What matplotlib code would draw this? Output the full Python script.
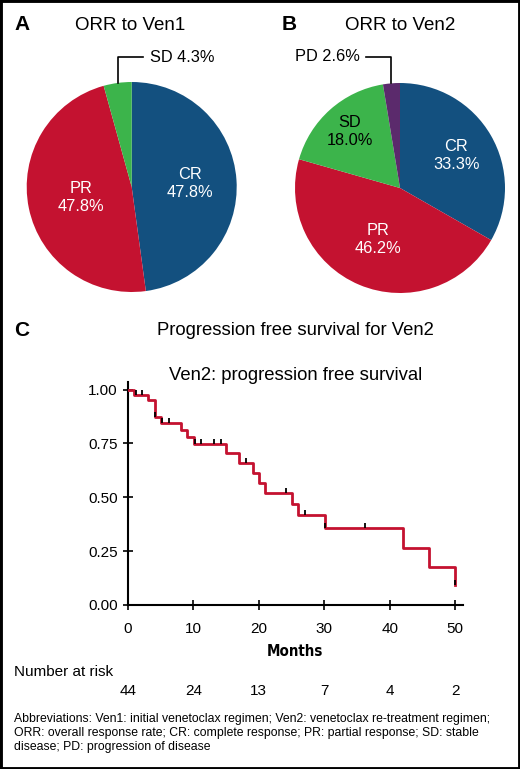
import os
import numpy as np
import matplotlib
matplotlib.use("Agg")
import matplotlib.pyplot as plt
import matplotlib.patches as mpatches
import matplotlib.transforms as mtransforms
from matplotlib import font_manager

plt.rcParams["font.family"] = ["Liberation Sans", "DejaVu Sans"]

# panel A / B: response rates
ven1_labels = ["CR", "PR", "SD"]
ven1_pct = [47.8, 47.8, 4.3]
ven2_labels = ["CR", "PR", "SD", "PD"]
ven2_pct = [33.3, 46.2, 18.0, 2.6]

COLORS = {"CR": "#13507f", "PR": "#c41230", "SD": "#3cb44b", "PD": "#5b2a6c"}

# panel C: Kaplan-Meier steps (time, survival after drop)
km_times = [0, 0.95, 3.1, 4.1, 5.0, 8.05, 9.05, 10.05, 15.0, 17.0, 19.05,
            20.05, 21.0, 25.05, 26.05, 30.05, 42.0, 46.0, 50.05]
km_surv = [1.0, 0.976, 0.950, 0.872, 0.845, 0.812, 0.779, 0.748, 0.705,
           0.660, 0.611, 0.566, 0.519, 0.468, 0.416, 0.356, 0.265, 0.177, 0.092]
censor_times = [1.2, 2.2, 4.2, 5.2, 6.2, 10.2, 11.2, 13.2, 14.2, 18.1,
                24.1, 27.1, 30.1, 36.2, 50.05]

risk_times = [0, 10, 20, 30, 40, 50]
risk_counts = [44, 24, 13, 7, 4, 2]

W, H = 520, 769
fig = plt.figure(figsize=(W / 100, H / 100), dpi=100)


def px(x, y):
    return x / W, 1 - y / H


def draw_pie(ax, labels, pct):
    cols = [COLORS[l] for l in labels]
    wedges, _ = ax.pie(pct, colors=cols, startangle=90, counterclock=False,
                       radius=1, wedgeprops=dict(linewidth=0))
    ax.set_xlim(-1, 1)
    ax.set_ylim(-1, 1)
    ax.set_aspect("equal")
    mids = {}
    for w, lab in zip(wedges, labels):
        mids[lab] = np.deg2rad((w.theta1 + w.theta2) / 2)
    return mids


# --- pie A
axA = fig.add_axes([px(26.7, 0)[0], px(0, 292)[1], 210 / W, 210 / H])
mids = draw_pie(axA, ven1_labels, ven1_pct)
for lab, r in [("CR", 0.555), ("PR", 0.49)]:
    a = mids[lab]
    axA.text(r * np.cos(a), r * np.sin(a), f"{lab}\n{ven1_pct[ven1_labels.index(lab)]:.1f}%",
             ha="center", va="center", color="white", fontsize=11.8, linespacing=1.25)
a = mids["SD"]
x0, y0 = np.cos(a), np.sin(a)
axA.plot([x0, x0, x0 + 0.24], [y0, 1.238, 1.238], color="black", lw=1.2, clip_on=False)
axA.text(x0 + 0.31, 1.238, "SD 4.3%", ha="left", va="center", fontsize=11.8)

# --- pie B
axB = fig.add_axes([px(295, 0)[0], px(0, 293)[1], 210 / W, 210 / H])
mids = draw_pie(axB, ven2_labels, ven2_pct)
for lab, r, col in [("CR", 0.62, "white"), ("PR", 0.53, "white"), ("SD", 0.72, "black")]:
    a = mids[lab]
    axB.text(r * np.cos(a), r * np.sin(a), f"{lab}\n{ven2_pct[ven2_labels.index(lab)]:.1f}%",
             ha="center", va="center", color=col, fontsize=11.8, linespacing=1.25)
a = mids["PD"]
x0, y0 = np.cos(a), np.sin(a)
axB.plot([x0, x0, x0 - 0.24], [y0, 1.248, 1.248], color="black", lw=1.2, clip_on=False)
axB.text(x0 - 0.30, 1.248, "PD 2.6%", ha="right", va="center", fontsize=11.8)

# titles
fig.text(*px(14, 25), "A", fontsize=15, fontweight="bold", va="center")
fig.text(*px(130, 25), "ORR to Ven1", fontsize=13.5, ha="center", va="center")
fig.text(*px(282, 25), "B", fontsize=15, fontweight="bold", va="center")
fig.text(*px(400, 25), "ORR to Ven2", fontsize=13.5, ha="center", va="center")
fig.text(*px(14, 330), "C", fontsize=15, fontweight="bold", va="center")
fig.text(*px(295, 330), "Progression free survival for Ven2", fontsize=13.3,
         ha="center", va="center")
fig.text(*px(296, 375), "Ven2: progression free survival", fontsize=13.3,
         ha="center", va="center")

# --- KM panel
left, bottom = px(128, 605)
ax = fig.add_axes([left, bottom, (463 - 128) / W, (605 - 382) / H])
ax.step(km_times, km_surv, where="post", color="#c41230", lw=2, zorder=3)
cens_surv = [km_surv[np.searchsorted(km_times, t, side="right") - 1] for t in censor_times]
ax.vlines(censor_times, cens_surv, np.array(cens_surv) + 0.024, color="black",
          lw=1.3, zorder=4)
ax.set_xlim(0, 51.2)
ax.set_ylim(0, 1.035)
ax.set_xticks(risk_times)
ax.set_yticks([0, 0.25, 0.5, 0.75, 1.0])
ax.set_yticklabels([f"{v:.2f}" for v in [0, 0.25, 0.5, 0.75, 1.0]])
for s in ["top", "right"]:
    ax.spines[s].set_visible(False)
for s in ["left", "bottom"]:
    ax.spines[s].set_linewidth(1.5)
ax.tick_params(direction="inout", length=7, width=1.2, labelsize=11, pad=4)
ax.tick_params(axis="x", pad=9)

# condensed face for the axis title, if one is installed
files = {os.path.basename(f.fname): f.fname for f in font_manager.fontManager.ttflist}
months_font = None
for name, size in [("LiberationSansNarrow-Bold.ttf", 11.7),
                   ("DejaVuSansCondensed-Bold.ttf", 10.8),
                   ("DejaVuSansCondensed.ttf", 11)]:
    if name in files:
        months_font = font_manager.FontProperties(fname=files[name], size=size)
        break
if months_font is None:
    months_font = font_manager.FontProperties(family="Liberation Sans", weight="bold", size=10.5)
fig.text(*px(295, 652), "Months", ha="center", va="center", fontproperties=months_font)

fig.text(*px(14, 672), "Number at risk", fontsize=11, ha="left", va="center")
tr = mtransforms.blended_transform_factory(ax.transData, fig.transFigure)
for t, n in zip(risk_times, risk_counts):
    ax.text(t, px(0, 691)[1], str(n), transform=tr, ha="center", va="center",
            fontsize=11, clip_on=False)

fig.text(*px(14, 733),
         "Abbreviations: Ven1: initial venetoclax regimen; Ven2: venetoclax re-treatment regimen;\n"
         "ORR: overall response rate; CR: complete response; PR: partial response; SD: stable\n"
         "disease; PD: progression of disease",
         fontsize=8.85, ha="left", va="center", linespacing=1.2)

fig.patches.append(mpatches.Rectangle((0, 0), 1, 1, transform=fig.transFigure,
                                      fill=False, lw=3.5, edgecolor="black"))

fig.savefig("out.png", dpi=100)
